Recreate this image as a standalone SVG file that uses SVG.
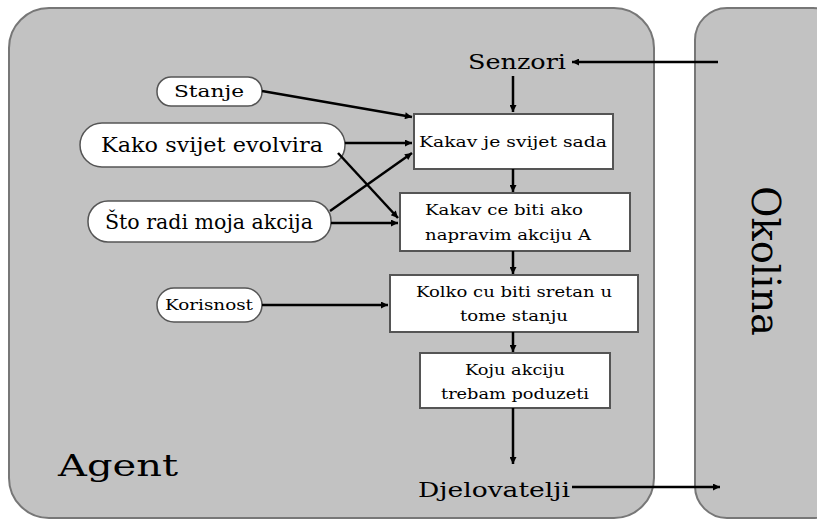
<svg xmlns="http://www.w3.org/2000/svg" width="817" height="524" viewBox="0 0 817 524">
<defs>
<marker id="ah" viewBox="0 0 10 10" refX="10" refY="5" markerWidth="9" markerHeight="7" orient="auto" markerUnits="userSpaceOnUse">
<path d="M0,0 L10,5 L0,10 z" fill="#000"/>
</marker>
<style>
.t{fill:#000}
.oval{fill:#fff;stroke:#555;stroke-width:1.5}
.box{fill:#fff;stroke:#555;stroke-width:2}
.c{stroke:#000;stroke-width:2.5;fill:none;marker-end:url(#ah)}
</style>
</defs>
<rect width="817" height="524" fill="#fff"/>
<g font-family="DejaVu Serif, serif">
<g id="agent">
<rect x="9" y="8" width="645" height="510" rx="40" ry="40" fill="#c2c2c2" stroke="#777" stroke-width="2"/>
<text class="t" x="58" y="476" font-size="30" textLength="120" lengthAdjust="spacingAndGlyphs">Agent</text>
</g>
<g id="okolina">
<rect x="695" y="8" width="150" height="510" rx="32" ry="32" fill="#c2c2c2" stroke="#777" stroke-width="2"/>
<text class="t" font-size="40" text-anchor="middle" transform="translate(752,261) rotate(90)" textLength="150" lengthAdjust="spacingAndGlyphs">Okolina</text>
</g>
<g id="senzori"><text class="t" x="517" y="69" font-size="21" text-anchor="middle" textLength="98" lengthAdjust="spacingAndGlyphs">Senzori</text></g>
<g id="djelovatelji"><text class="t" x="494" y="497" font-size="21" text-anchor="middle" textLength="152" lengthAdjust="spacingAndGlyphs">Djelovatelji</text></g>
<g id="stanje">
<rect class="oval" x="157" y="77" width="105" height="29" rx="14"/>
<text class="t" x="209" y="97" font-size="17" text-anchor="middle" textLength="70" lengthAdjust="spacingAndGlyphs">Stanje</text>
</g>
<g id="kako">
<rect class="oval" x="80" y="123" width="265" height="44" rx="22"/>
<text class="t" x="212" y="152" font-size="20" text-anchor="middle" textLength="222" lengthAdjust="spacingAndGlyphs">Kako svijet evolvira</text>
</g>
<g id="sto">
<rect class="oval" x="88" y="201" width="243" height="41" rx="20"/>
<text class="t" x="209" y="229" font-size="20" text-anchor="middle" textLength="208" lengthAdjust="spacingAndGlyphs">Što radi moja akcija</text>
</g>
<g id="korisnost">
<rect class="oval" x="157" y="288" width="105" height="34" rx="17"/>
<text class="t" x="209" y="310" font-size="14" text-anchor="middle" textLength="88" lengthAdjust="spacingAndGlyphs">Korisnost</text>
</g>
<g id="box1">
<rect class="box" x="414" y="114" width="199" height="55"/>
<text class="t" x="513" y="147" font-size="14" text-anchor="middle" textLength="188" lengthAdjust="spacingAndGlyphs">Kakav je svijet sada</text>
</g>
<g id="box2">
<rect class="box" x="400" y="193" width="230" height="58"/>
<text class="t" x="425" y="215" font-size="14" textLength="158" lengthAdjust="spacingAndGlyphs">Kakav ce biti ako</text>
<text class="t" x="425" y="240" font-size="14" textLength="166" lengthAdjust="spacingAndGlyphs">napravim akciju A</text>
</g>
<g id="box3">
<rect class="box" x="390" y="275" width="248" height="57"/>
<text class="t" x="514" y="297" font-size="14" text-anchor="middle" textLength="196" lengthAdjust="spacingAndGlyphs">Kolko cu biti sretan u</text>
<text class="t" x="514" y="321" font-size="14" text-anchor="middle" textLength="108" lengthAdjust="spacingAndGlyphs">tome stanju</text>
</g>
<g id="box4">
<rect class="box" x="420" y="353" width="190" height="55"/>
<text class="t" x="515" y="375" font-size="14" text-anchor="middle" textLength="100" lengthAdjust="spacingAndGlyphs">Koju akciju</text>
<text class="t" x="515" y="399" font-size="14" text-anchor="middle" textLength="148" lengthAdjust="spacingAndGlyphs">trebam poduzeti</text>
</g>
</g>
<g id="connectors">
<line class="c" x1="718" y1="62" x2="572" y2="62"/>
<line class="c" x1="513" y1="76" x2="513" y2="112"/>
<line class="c" x1="513" y1="169" x2="513" y2="192"/>
<line class="c" x1="513" y1="251" x2="513" y2="274"/>
<line class="c" x1="513" y1="332" x2="513" y2="352"/>
<line class="c" x1="513" y1="408" x2="513" y2="464"/>
<line class="c" x1="572" y1="487" x2="720" y2="487"/>
<line class="c" x1="262" y1="91" x2="412" y2="117"/>
<line class="c" x1="345" y1="143" x2="412" y2="143"/>
<line class="c" x1="338" y1="153" x2="398" y2="218"/>
<line class="c" x1="330" y1="211" x2="412" y2="153"/>
<line class="c" x1="331" y1="223" x2="398" y2="223"/>
<line class="c" x1="262" y1="305" x2="388" y2="305"/>
</g>
</svg>
